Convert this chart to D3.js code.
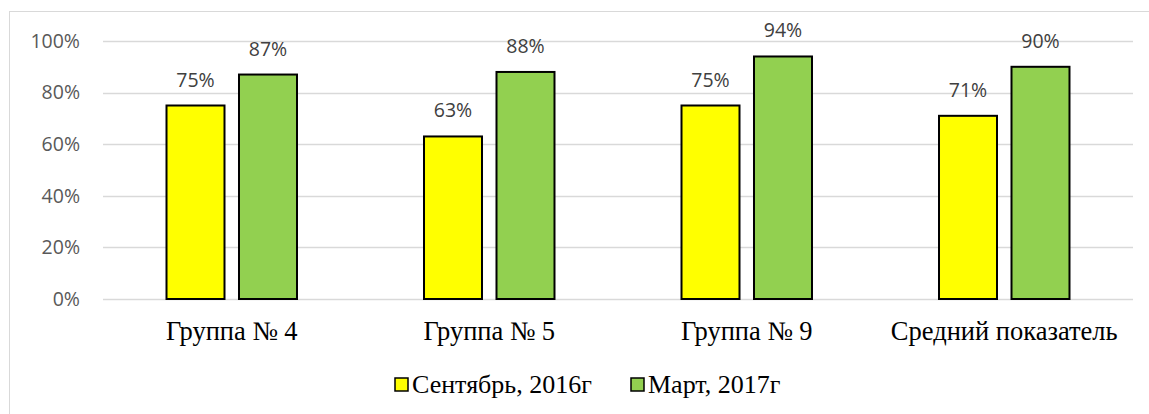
<!DOCTYPE html>
<html>
<head>
<meta charset="utf-8">
<script src="https://cdn.jsdelivr.net/npm/d3@7"></script>
<style>
  body { margin: 0; background: #fff; }
  svg { display: block; }
</style>
</head>
<body>
<div id="graf"></div>
<script>
// datos
categorias = ['Группа № 4', 'Группа № 5', 'Группа № 9', 'Средний показатель']
series = ['Сентябрь, 2016г', 'Март, 2017г']
valoresSep = [75, 63, 75, 71]
valoresMar = [87, 88, 94, 90]
colores = ['#FFFF00', '#92D050']
ticksY = [0, 20, 40, 60, 80, 100]

ancho_total = 1149
alto_total = 414
margins = { top: 41, left: 103, right: 16, bottom: 115 }
ancho = ancho_total - margins.left - margins.right
alto = alto_total - margins.top - margins.bottom

svg = d3.select('#graf').append('svg')
  .attr('width', ancho_total)
  .attr('height', alto_total)

// marco del grafico
svg.append('rect')
  .attr('x', 9.5).attr('y', 11.5)
  .attr('width', 1160).attr('height', 420)
  .attr('fill', 'none')
  .attr('stroke', '#d9d9d9')
  .attr('stroke-width', 1)

g = svg.append('g')
  .attr('transform', `translate(${margins.left}, ${margins.top})`)

// escalas
y = d3.scaleLinear().domain([0, 100]).range([alto, 0])
x0 = d3.scaleBand().domain(categorias).range([0, ancho]).padding(0)
x1 = d3.scaleBand().domain(series).range([0, x0.bandwidth()])
  .paddingInner(0.2).paddingOuter(0.876)

// lineas de grilla
g.selectAll('.grid')
  .data(ticksY)
  .enter().append('line')
    .attr('x1', 0).attr('x2', ancho)
    .attr('y1', d => Math.round(y(d)) + 0.5)
    .attr('y2', d => Math.round(y(d)) + 0.5)
    .attr('stroke', '#d9d9d9')
    .attr('stroke-width', 1.3)

// eje y
yAxis = d3.axisLeft(y).tickValues(ticksY).tickFormat(d => d + '%').tickSize(0).tickPadding(23)
g.append('g').call(yAxis)
  .call(s => s.select('.domain').remove())
  .selectAll('text')
    .attr('fill', '#595959')
    .style('font-family', '"Open Sans", sans-serif')
    .style('font-size', '19.5px')

// eje x
xAxis = d3.axisBottom(x0).tickSize(0).tickPadding(22)
g.append('g').attr('transform', `translate(0, ${alto})`).call(xAxis)
  .call(s => s.select('.domain').remove())
  .selectAll('text')
    .attr('fill', '#000')
    .style('font-family', '"Liberation Serif", "Times New Roman", serif')
    .style('font-size', '26.5px')

// datos por grupo
datos = categorias.map((c, i) => ({ cat: c, vals: [valoresSep[i], valoresMar[i]] }))

grupos = g.selectAll('.grupo')
  .data(datos)
  .enter().append('g')
    .attr('transform', d => `translate(${x0(d.cat)}, 0)`)

grupos.selectAll('rect')
  .data(d => d.vals.map((v, j) => ({ serie: series[j], v: v, j: j })))
  .enter().append('rect')
    .attr('x', d => x1(d.serie))
    .attr('y', d => y(d.v))
    .attr('width', x1.bandwidth())
    .attr('height', d => alto - y(d.v))
    .attr('fill', d => colores[d.j])
    .attr('stroke', '#000')
    .attr('stroke-width', 2)

grupos.selectAll('.etiqueta')
  .data(d => d.vals.map((v, j) => ({ serie: series[j], v: v, j: j })))
  .enter().append('text')
    .attr('x', d => x1(d.serie) + x1.bandwidth() / 2)
    .attr('y', d => y(d.v) - 19)
    .attr('text-anchor', 'middle')
    .attr('fill', '#404040')
    .style('font-family', '"Open Sans", sans-serif')
    .style('font-size', '19.5px')
    .text(d => d.v + '%')

// leyenda
leyendaX = [395, 631]
leyenda = svg.selectAll('.leyenda')
  .data(series)
  .enter().append('g')
    .attr('transform', (d, i) => `translate(${leyendaX[i]}, 378)`)

leyenda.append('rect')
  .attr('width', 13).attr('height', 13)
  .attr('fill', (d, i) => colores[i])
  .attr('stroke', '#000').attr('stroke-width', 1.5)

leyenda.append('text')
  .attr('x', 17).attr('y', 15)
  .style('font-family', '"Liberation Serif", "Times New Roman", serif')
  .style('font-size', '26px')
  .attr('fill', '#000')
  .text(d => d)
</script>
</body>
</html>
